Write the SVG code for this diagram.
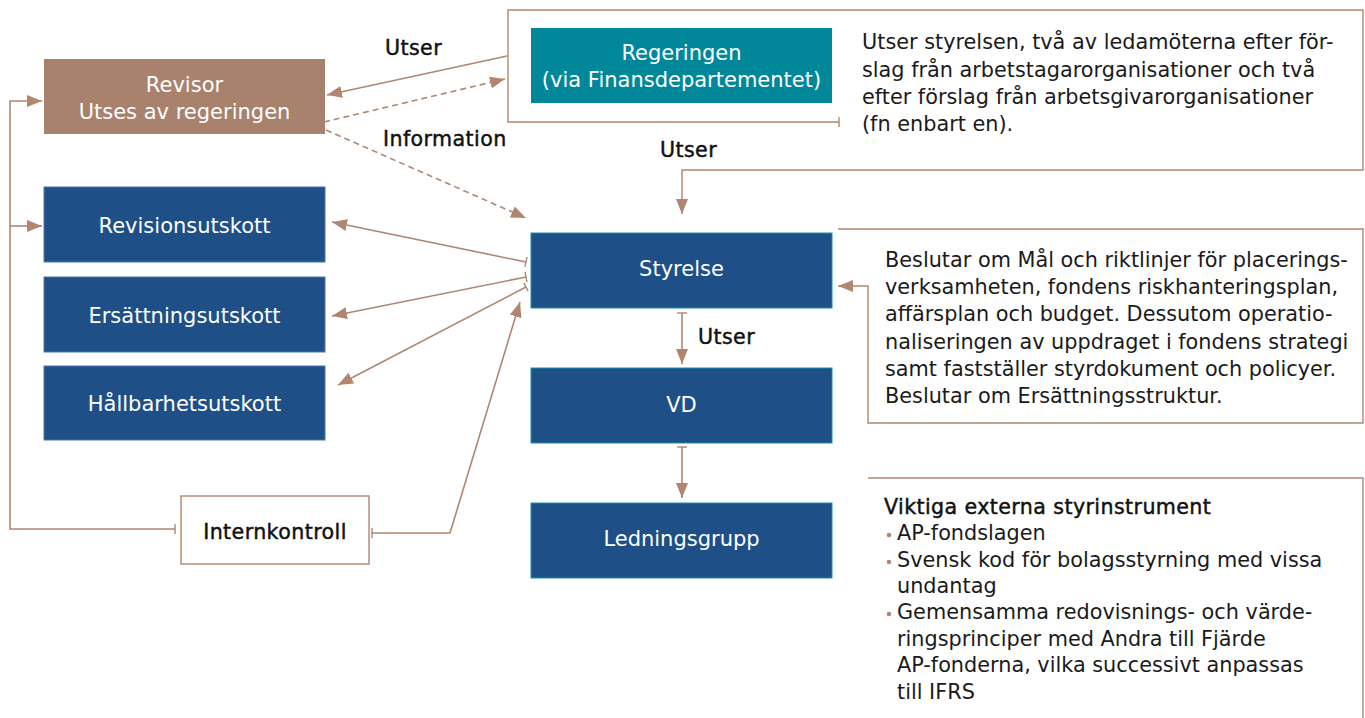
<svg xmlns="http://www.w3.org/2000/svg" width="1365" height="718" viewBox="0 0 1365 718">
<style>
  text { font-family: "DejaVu Sans", "Liberation Sans", sans-serif; font-size: 20.8px; }
  .nt { fill: #ffffff; text-anchor: middle; font-size: 21px; }
  .dk { fill: #1a1a1a; }
  .lbl { fill: #111111; stroke: #111111; stroke-width: 0.45; letter-spacing: 0.4px; font-size: 20.6px; }
  .navy { fill: #1e4f87; }
  .c { fill: none; stroke: #b08670; stroke-width: 1.6; }
  .f { fill: none; stroke: #b08670; stroke-width: 1.4; }
  .dash { stroke-dasharray: 6 4; }
  .bul { fill: #b08670; }
</style>
<defs>
  <marker id="ah" markerUnits="userSpaceOnUse" markerWidth="16" markerHeight="12" refX="15" refY="6" orient="auto">
    <path d="M0,0 L15,6 L0,12 z" fill="#b08670"/>
  </marker>
  <marker id="tk" markerUnits="userSpaceOnUse" markerWidth="2" markerHeight="10" refX="1" refY="5" orient="auto">
    <line x1="1" y1="0" x2="1" y2="10" stroke="#b08670" stroke-width="1.4"/>
  </marker>
</defs>

<g id="connectors">
  <line class="c" x1="507" y1="56" x2="327" y2="95" marker-end="url(#ah)"/>
  <line class="c dash" x1="324" y1="122" x2="505" y2="79" marker-end="url(#ah)"/>
  <line class="c dash" x1="326" y1="130" x2="526" y2="218" marker-end="url(#ah)"/>
  <path class="f" d="M839,122 H508 V10 H1363 V170 H682 V214" marker-start="url(#tk)" marker-end="url(#ah)"/>
  <path class="c" d="M682,313 V364" marker-start="url(#tk)" marker-end="url(#ah)"/>
  <path class="c" d="M682,447 V498" marker-start="url(#tk)" marker-end="url(#ah)"/>
  <path class="f" d="M838,229 H1363 V423 H868 V286 H838" marker-end="url(#ah)"/>
  <path class="f" d="M868,478 H1363 V718"/>
  <line class="c" x1="526" y1="262" x2="332" y2="222" marker-start="url(#tk)" marker-end="url(#ah)"/>
  <line class="c" x1="526" y1="277" x2="332" y2="316" marker-start="url(#tk)" marker-end="url(#ah)"/>
  <line class="c" x1="526" y1="287" x2="338" y2="385" marker-start="url(#tk)" marker-end="url(#ah)"/>
  <path class="c" d="M372,533 H450 L520,302" marker-start="url(#tk)" marker-end="url(#ah)"/>
  <path class="c" d="M175,529 H10 V101 H42" marker-start="url(#tk)" marker-end="url(#ah)"/>
  <path class="c" d="M10,226 H42" marker-end="url(#ah)"/>
</g>

<g id="labels">
  <text class="lbl" x="385" y="55">Utser</text>
  <text class="lbl" x="383" y="146">Information</text>
  <text class="lbl" x="660" y="157">Utser</text>
  <text class="lbl" x="698" y="344">Utser</text>
</g>

<g id="revisor">
  <rect x="44" y="59" width="281" height="75" fill="#a8826d"/>
  <text class="nt" x="184.5" y="92">Revisor</text>
  <text class="nt" x="184.5" y="119">Utses av regeringen</text>
</g>

<g id="regeringen">
  <rect x="531" y="28" width="301" height="75" fill="#00889a"/>
  <text class="nt" x="681.5" y="60">Regeringen</text>
  <text class="nt" x="681.5" y="87">(via Finansdepartementet)</text>
</g>

<g id="regeringen-note">
  <text class="dk" x="862" y="49">Utser styrelsen, två av ledamöterna efter för-</text>
  <text class="dk" x="862" y="77">slag från arbetstagarorganisationer och två</text>
  <text class="dk" x="862" y="104">efter förslag från arbetsgivarorganisationer</text>
  <text class="dk" x="862" y="131">(fn enbart en).</text>
</g>

<g id="revisionsutskott">
  <rect class="navy" x="44" y="187" width="281" height="75" stroke="#4f76a8" stroke-width="1"/>
  <text class="nt" x="184.5" y="233">Revisionsutskott</text>
</g>
<g id="ersattningsutskott">
  <rect class="navy" x="44" y="277" width="281" height="75" stroke="#4f76a8" stroke-width="1"/>
  <text class="nt" x="184.5" y="323">Ersättningsutskott</text>
</g>
<g id="hallbarhetsutskott">
  <rect class="navy" x="44" y="366" width="281" height="74" stroke="#4f76a8" stroke-width="1"/>
  <text class="nt" x="184.5" y="411">Hållbarhetsutskott</text>
</g>

<g id="styrelse">
  <rect class="navy" x="531" y="233" width="301" height="75" stroke="#1c93a3" stroke-width="1"/>
  <text class="nt" x="681.5" y="276">Styrelse</text>
</g>
<g id="vd">
  <rect class="navy" x="531" y="368" width="301" height="75" stroke="#1c93a3" stroke-width="1"/>
  <text class="nt" x="681.5" y="412">VD</text>
</g>
<g id="ledningsgrupp">
  <rect class="navy" x="531" y="503" width="301" height="75" stroke="#1c93a3" stroke-width="1"/>
  <text class="nt" x="681.5" y="546">Ledningsgrupp</text>
</g>

<g id="internkontroll">
  <rect x="181" y="496" width="188" height="68" fill="#ffffff" stroke="#b08670" stroke-width="1.4"/>
  <text class="lbl" x="275" y="539" text-anchor="middle">Internkontroll</text>
</g>

<g id="styrelse-note">
  <text class="dk" x="885" y="267">Beslutar om Mål och riktlinjer för placerings-</text>
  <text class="dk" x="885" y="294">verksamheten, fondens riskhanteringsplan,</text>
  <text class="dk" x="885" y="321">affärsplan och budget. Dessutom operatio-</text>
  <text class="dk" x="885" y="349">naliseringen av uppdraget i fondens strategi</text>
  <text class="dk" x="885" y="376">samt fastställer styrdokument och policyer.</text>
  <text class="dk" x="885" y="403">Beslutar om Ersättningsstruktur.</text>
</g>

<g id="externa-note">
  <text class="lbl" x="884" y="514">Viktiga externa styrinstrument</text>
  <circle class="bul" cx="889" cy="535" r="2.3"/>
  <text class="dk" x="897" y="540">AP-fondslagen</text>
  <circle class="bul" cx="889" cy="562" r="2.3"/>
  <text class="dk" x="897" y="567">Svensk kod för bolagsstyrning med vissa</text>
  <text class="dk" x="897" y="593">undantag</text>
  <circle class="bul" cx="889" cy="614" r="2.3"/>
  <text class="dk" x="897" y="619">Gemensamma redovisnings- och värde-</text>
  <text class="dk" x="897" y="646">ringsprinciper med Andra till Fjärde</text>
  <text class="dk" x="897" y="672">AP-fonderna, vilka successivt anpassas</text>
  <text class="dk" x="897" y="699">till IFRS</text>
</g>
</svg>
